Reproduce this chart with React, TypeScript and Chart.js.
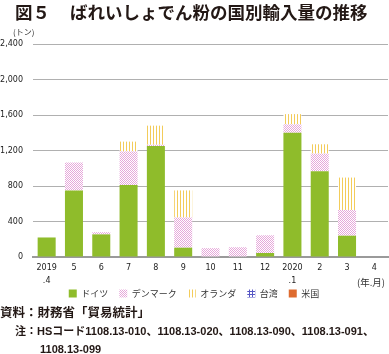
import React, { useEffect, useRef } from 'react';
import { Chart, registerables } from 'chart.js';

Chart.register(...registerables);

// ---- data ----
const categories: (string | string[])[] = [
  ['2019', '.4'], '5', '6', '7', '8', '9', '10', '11', '12', ['2020', '.1'], '2', '3', '4',
];
const seriesNames = ['ドイツ', 'デンマーク', 'オランダ', '台湾', '米国'];
const germany = [220, 750, 255, 810, 1250, 105, 0, 0, 45, 1400, 965, 240, 0];
const denmark = [0, 315, 25, 380, 15, 340, 100, 110, 200, 95, 200, 290, 0];
const netherlands = [0, 0, 0, 110, 215, 305, 0, 0, 0, 115, 105, 365, 0];
const taiwan = [0, 0, 0, 0, 0, 0, 0, 0, 0, 0, 0, 0, 0];
const usa = [0, 0, 0, 0, 0, 0, 0, 0, 0, 0, 0, 0, 0];
const yMin = 0;
const yMax = 2400;
const yStep = 400;

function makePattern(kind: string): CanvasPattern | string {
  const c = document.createElement('canvas');
  const ctx = c.getContext('2d');
  if (!ctx) return '#ccc';
  if (kind === 'dots') {
    c.width = 2; c.height = 2;
    ctx.fillStyle = '#ffffff'; ctx.fillRect(0, 0, 2, 2);
    ctx.fillStyle = '#E6A8DA';
    ctx.fillRect(0, 0, 1, 1); ctx.fillRect(1, 1, 1, 1);
  } else if (kind === 'vlines') {
    c.width = 3; c.height = 3;
    ctx.fillStyle = '#ffffff'; ctx.fillRect(0, 0, 3, 3);
    ctx.fillStyle = '#F3CC5A'; ctx.fillRect(0, 0, 1, 3);
  } else {
    c.width = 3; c.height = 3;
    ctx.fillStyle = '#ffffff'; ctx.fillRect(0, 0, 3, 3);
    ctx.fillStyle = '#5656C4'; ctx.fillRect(0, 0, 3, 1); ctx.fillRect(0, 0, 1, 3);
  }
  return ctx.createPattern(c, 'repeat') || '#ccc';
}

const tickFont = { family: '"DejaVu Sans", sans-serif', size: 8, lineHeight: 1.6 };
const cjk = '"Noto Sans CJK JP", sans-serif';

const LEGEND_SHIFT = 11;
const legendShift = {
  id: 'legendShift',
  afterLayout(chart: any) {
    const lg = chart.legend;
    if (lg) {
      lg.top -= LEGEND_SHIFT;
      lg.bottom -= LEGEND_SHIFT;
    }
  },
};

export default function App() {
  const ref = useRef<HTMLCanvasElement | null>(null);

  useEffect(() => {
    document.body.style.margin = '0';
    const canvas = ref.current;
    if (!canvas) return;
    const chart = new Chart(canvas, {
      type: 'bar',
      data: {
        labels: categories as any,
        datasets: [
          { label: seriesNames[0], data: germany, backgroundColor: '#8FBC2B' },
          { label: seriesNames[1], data: denmark, backgroundColor: makePattern('dots') as any },
          { label: seriesNames[2], data: netherlands, backgroundColor: makePattern('vlines') as any },
          { label: seriesNames[3], data: taiwan, backgroundColor: makePattern('grid') as any },
          { label: seriesNames[4], data: usa, backgroundColor: '#DE6B2F' },
        ].map((d) => ({ ...d, barPercentage: 0.66, categoryPercentage: 1, borderWidth: 0 })),
      },
      options: {
        responsive: false,
        animation: false,
        layout: { padding: { top: 44, left: 0, right: 1, bottom: 35 } },
        plugins: {
          legend: {
            position: 'bottom',
            labels: {
              boxWidth: 8,
              boxHeight: 8,
              padding: 11,
              color: '#333',
              font: { family: cjk, size: 9 },
            },
          },
          tooltip: { enabled: false },
        },
        scales: {
          x: {
            stacked: true,
            grid: { display: false, drawTicks: false },
            border: { display: true, color: '#9a9a9a', width: 2 },
            ticks: { color: '#222', font: tickFont as any, padding: 5, maxRotation: 0, autoSkip: false },
            afterFit: (s: any) => { s.height = 32; },
          },
          y: {
            stacked: true,
            min: yMin,
            max: yMax,
            grid: { color: '#b0b0b0', lineWidth: 1, drawTicks: false },
            border: { display: false },
            ticks: {
              stepSize: yStep,
              color: '#222',
              font: tickFont as any,
              padding: 10,
              callback: (v: any) => Number(v).toLocaleString('en-US'),
            },
            afterFit: (s: any) => { s.width = 33; },
          },
        },
      },
      plugins: [legendShift],
    });
    return () => chart.destroy();
  }, []);

  const abs = (left: number, top: number, size: number, extra: any = {}) => ({
    position: 'absolute' as const,
    left,
    top,
    fontSize: size,
    lineHeight: 1,
    whiteSpace: 'nowrap' as const,
    fontFamily: cjk,
    color: '#231815',
    ...extra,
  });

  return (
    <div style={{ position: 'relative', width: 389, height: 354, overflow: 'hidden', background: '#fff' }}>
      <canvas ref={ref} width={389} height={354} style={{ position: 'absolute', left: 0, top: 0, width: 389, height: 354 }} />
      <div style={abs(15, 3, 17.5, { fontWeight: 700 })}>図５</div>
      <div style={abs(70, 3, 17.5, { fontWeight: 700 })}>ばれいしょでん粉の国別輸入量の推移</div>
      <div style={abs(13, 28, 8, { color: '#333' })}>(トン)</div>
      <div style={abs(357, 278, 9.5, { color: '#333' })}>(年.月)</div>
      <div style={abs(0, 306, 12.5, { fontWeight: 700 })}>資料：財務省「貿易統計」</div>
      <div style={abs(15, 326, 11, { fontFamily: '"Liberation Sans", ' + cjk, fontWeight: 700 })}>
        注：HSコード1108.13-010、1108.13-020、1108.13-090、1108.13-091、
      </div>
      <div style={abs(40, 344, 11, { fontFamily: '"Liberation Sans", ' + cjk, fontWeight: 700 })}>1108.13-099</div>
    </div>
  );
}
